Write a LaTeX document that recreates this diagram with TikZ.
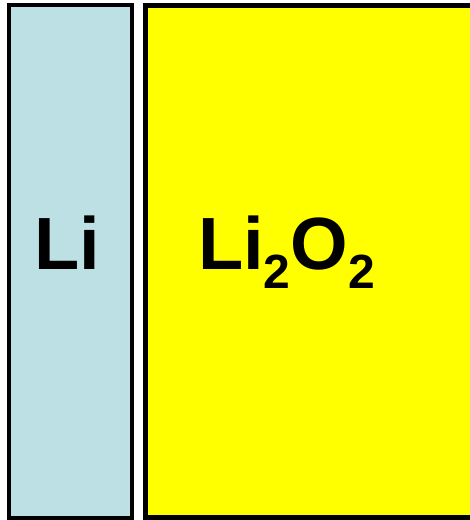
\documentclass[tikz,border=0pt]{standalone}
\usepackage{fontspec}
\setmainfont{Liberation Sans}
\definecolor{liblue}{RGB}{188,224,227}
\definecolor{pureyellow}{RGB}{255,255,0}
\newcommand{\subtwo}{{\fontsize{48}{48}\selectfont\raisebox{-19pt}{2}}}
\begin{document}
\begin{tikzpicture}[x=1pt,y=1pt,
  layer/.style={draw=black,line width=4.5pt},
  lbl/.style={font=\fontsize{74}{74}\selectfont\bfseries,anchor=base west,inner sep=0pt}]
\useasboundingbox (0,0) rectangle (470,520);
\clip (0,0) rectangle (470,520);
\draw[layer,fill=liblue] (9,2) rectangle (132,515);
\draw[layer,fill=pureyellow] (145.5,2.5) rectangle (480,514.5);
\node[lbl] (li) at (34,250) {Li};
\node[lbl] (lio) at (198,250) {Li\subtwo O\subtwo};
\end{tikzpicture}
\end{document}
